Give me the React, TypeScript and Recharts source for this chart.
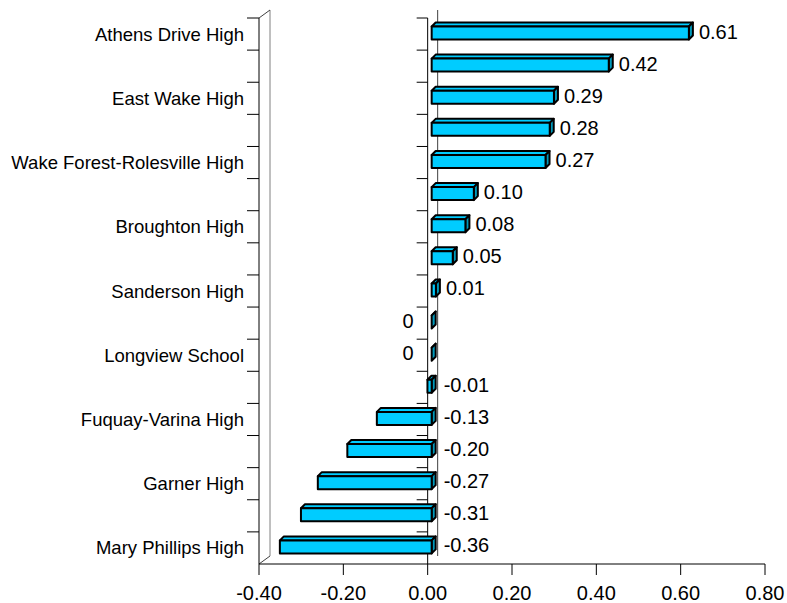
import { Bar, BarChart, LabelList, ReferenceLine, XAxis, YAxis } from "recharts";

// only every other school is named on the axis
const schools = [
  "Athens Drive High", "", "East Wake High", "", "Wake Forest-Rolesville High", "",
  "Broughton High", "", "Sanderson High", "", "Longview School", "",
  "Fuquay-Varina High", "", "Garner High", "", "Mary Phillips High",
];
const scores = [0.61, 0.42, 0.29, 0.28, 0.27, 0.1, 0.08, 0.05, 0.01, 0, 0, -0.01, -0.13, -0.2, -0.27, -0.31, -0.36];
const xTicks = [-0.4, -0.2, 0, 0.2, 0.4, 0.6, 0.8];

const data = scores.map((value, slot) => ({ slot, value }));

const W = 787;
const H = 603;
const margin = { top: 18, right: 22, bottom: 0, left: 0 };
const X_AXIS_H = 39;
const band = (H - margin.top - X_AXIS_H) / data.length;
const FONT = "'Liberation Sans', Arial, sans-serif";
const DEPTH = 4;

const fmt = (v: number) => (v === 0 ? "0" : v.toFixed(2));

function Box3D(props: any) {
  const { x, y, width, height } = props;
  const left = Math.min(x, x + width) + DEPTH;
  const right = Math.max(x, x + width) + DEPTH;
  const top = y - 1.5;
  const bottom = y + height - 1.5;
  const d = DEPTH;
  return (
    <g stroke="#000" strokeWidth={2} strokeLinejoin="round">
      <polygon points={`${left},${top} ${left + d},${top - d} ${right + d},${top - d} ${right},${top}`} fill="#00CCFF" />
      <polygon points={`${right},${top} ${right + d},${top - d} ${right + d},${bottom - d} ${right},${bottom}`} fill="#0099BB" />
      <rect x={left} y={top} width={right - left} height={bottom - top} fill="#00CCFF" />
    </g>
  );
}

function ValueLabel(props: any) {
  const { x, y, width, height, value } = props;
  const zero = value >= 0 ? Math.min(x, x + width) : Math.max(x, x + width);
  const cy = y + height / 2 - 3;
  let tx = zero + 16;
  let anchor = "start";
  if (value > 0) tx = Math.max(zero + width + DEPTH + 10, zero + 16);
  if (value === 0) {
    tx = zero - 14;
    anchor = "end";
  }
  return (
    <text x={tx} y={cy} textAnchor={anchor} dominantBaseline="central" fontSize={20} fontFamily={FONT} fill="#000">
      {fmt(value)}
    </text>
  );
}

function Wall(props: any) {
  const x = props.x1;
  const yTop = Math.min(props.y1, props.y2);
  const yBot = Math.max(props.y1, props.y2);
  const ticks = data.map((_, k) => yTop + k * band);
  return (
    <g>
      <line x1={x + 11} y1={yTop - 8} x2={x + 11} y2={yBot - 8} stroke="#808080" />
      <line x1={x} y1={yTop} x2={x + 11} y2={yTop - 8} stroke="#404040" />
      <line x1={x} y1={yBot} x2={x + 11} y2={yBot - 8} stroke="#404040" />
      <line x1={x} y1={yTop} x2={x} y2={yBot} stroke="#000" />
      {ticks.map((ty) => (
        <line key={ty} x1={x - 12} y1={ty} x2={x} y2={ty} stroke="#000" />
      ))}
    </g>
  );
}

function ZeroAxis(props: any) {
  const x = props.x1;
  const yTop = Math.min(props.y1, props.y2);
  const yBot = Math.max(props.y1, props.y2);
  const ticks = data.map((_, k) => yTop + k * band);
  return (
    <g>
      <line x1={x + 10} y1={yTop - 8} x2={x + 10} y2={yBot - 8} stroke="#404040" />
      <line x1={x} y1={yTop} x2={x} y2={yBot} stroke="#000" />
      {ticks.map((ty) => (
        <line key={ty} x1={x - 11} y1={ty} x2={x} y2={ty} stroke="#000" />
      ))}
    </g>
  );
}

function SchoolTick(props: any) {
  const { x, y, payload } = props;
  return (
    <text x={x} y={y} textAnchor="end" dominantBaseline="central" fontSize={18.5} fontFamily={FONT} fill="#000">
      {schools[payload.value]}
    </text>
  );
}

export default function App() {
  return (
    <div style={{ position: "absolute", left: 0, top: 0, background: "#fff" }}>
      <BarChart width={W} height={H} data={data} layout="vertical" margin={margin}>
        <XAxis
          type="number"
          domain={[-0.4, 0.8]}
          ticks={xTicks}
          tickFormatter={(v: number) => v.toFixed(2)}
          height={X_AXIS_H}
          tickSize={11}
          tickMargin={11}
          axisLine={{ stroke: "#000" }}
          tickLine={{ stroke: "#000" }}
          tick={{ fontSize: 20, fontFamily: FONT, fill: "#000" }}
          interval={0}
        />
        <YAxis
          type="category"
          dataKey="slot"
          width={259}
          interval={0}
          axisLine={false}
          tickLine={false}
          tickSize={0}
          tickMargin={15}
          tick={<SchoolTick />}
        />
        <ReferenceLine x={-0.4} shape={<Wall />} zIndex={0} />
        <ReferenceLine x={0} shape={<ZeroAxis />} zIndex={0} />
        <Bar dataKey="value" barSize={13} shape={<Box3D />} isAnimationActive={false}>
          <LabelList dataKey="value" content={<ValueLabel />} />
        </Bar>
      </BarChart>
    </div>
  );
}
